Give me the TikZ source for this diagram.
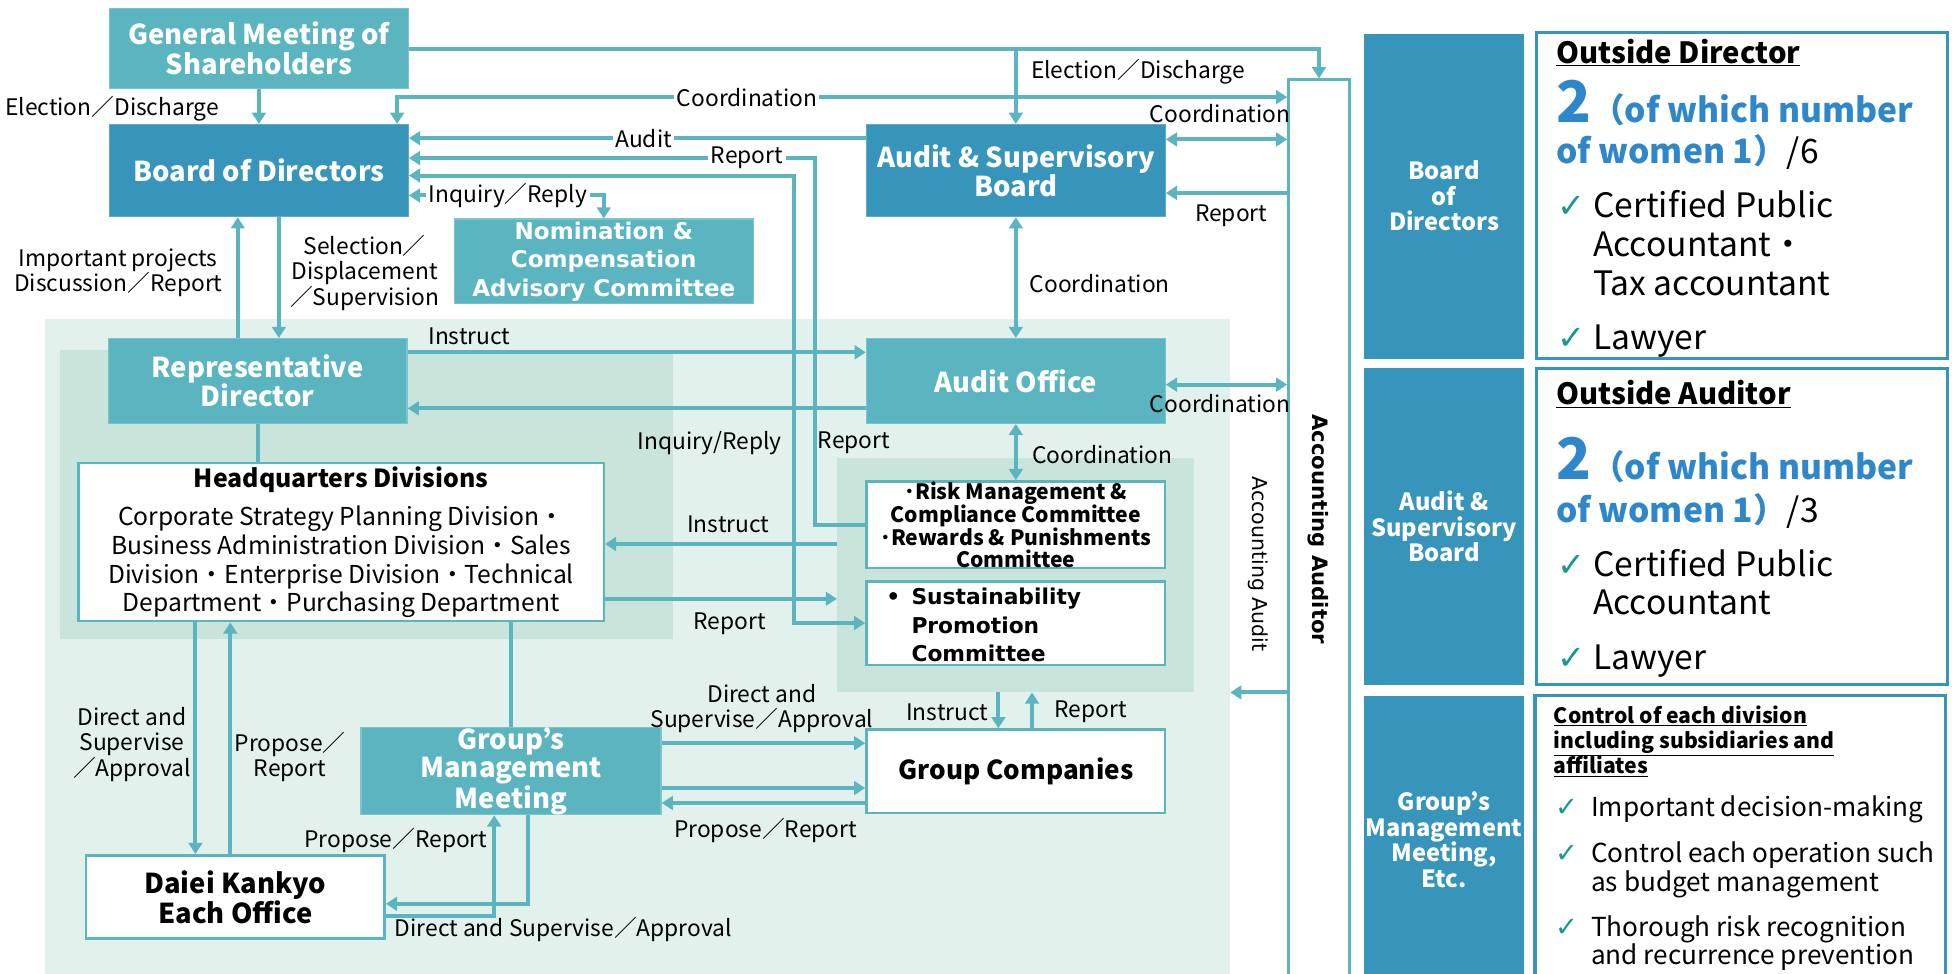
\documentclass[tikz,border=0pt]{standalone}
\usepackage{fontspec}
\setmainfont{Noto Sans CJK JP}
\newfontfamily\verdfont{DejaVu Sans}
\usetikzlibrary{arrows.meta,positioning,calc}

\definecolor{boxteal}{HTML}{5AB5C0}
\definecolor{boxblue}{HTML}{3795BB}
\definecolor{lineteal}{HTML}{5AB5C0}
\definecolor{bgouter}{HTML}{E2F1EC}
\definecolor{bginner}{HTML}{C9E4DB}
\definecolor{numblue}{HTML}{2E87CB}
\definecolor{tickgreen}{HTML}{1A9A8C}

\newcommand{\fs}[2]{\fontsize{#1}{#2}\selectfont}
\newcommand{\chk}[1]{{\verdfont\fs{#1}{#1}\color{tickgreen}✓}}

\begin{document}
\begin{tikzpicture}[x=1pt,y=-1pt,
	>={Triangle[length=9pt,width=11pt]},
	conn/.style={draw=lineteal,line width=3.2pt},
	tealbox/.style={fill=boxteal,draw=boxteal!80!white,line width=1pt,text=white,
		font=\bfseries\fs{22}{22.5},align=center,minimum width=240pt,inner sep=0pt},
	bluebox/.style={tealbox,fill=boxblue,draw=boxblue!80!white},
	whitebox/.style={fill=white,draw=lineteal,line width=2pt,align=center,
		minimum width=240pt,inner sep=0pt},
	area/.style={fill=#1,draw=none,inner sep=0pt},
	lbl/.style={font=\fs{18.3}{20.5},align=center,inner sep=0pt,inner xsep=2pt},
	lblw/.style={lbl,fill=white},
	sidebox/.style={fill=boxblue,text=white,font=\bfseries\fs{19}{20.5},
		align=center,minimum width=128pt,inner sep=0pt},
	infobox/.style={fill=white,draw=boxblue,line width=2.5pt,
		minimum width=330pt,inner sep=0pt},
	txtline/.style={anchor=base west,inner sep=0pt}]
	
	\clip (0,0) rectangle (1568,782);
	
	% shaded areas
	\node[area=bgouter,minimum width=952pt,minimum height=544pt] (grpbg) at (512,528) {};
	\node[area=bginner,minimum width=493pt,minimum height=232pt] (hqbg) at (294.5,397) {};
	\node[area=bginner,minimum width=287pt,minimum height=188pt] (commbg) at (816,462) {};
	
	% boxes
	\node[tealbox,minimum height=64pt] (gms) at (208,39) {General Meeting of\\Shareholders};
	\node[bluebox,minimum height=74pt] (bod) at (208,137) {Board of Directors};
	\node[tealbox,minimum height=68pt,font=\verdfont\bfseries\fs{18.5}{23}] (nom) at (485,210)
		{Nomination \&\\Compensation\\Advisory Committee};
	\node[bluebox,minimum height=74pt,font=\bfseries\fs{22}{17}] (asb) at (816,137)
		{Audit \& Supervisory\\Board};
	\node[tealbox,minimum height=68pt] (rd) at (207,306) {Representative\\Director};
	\node[tealbox,minimum height=68pt] (ao) at (816,306) {Audit Office};
	\node[whitebox,minimum width=422pt,minimum height=127pt,font=\fs{19.8}{23}] (hq) at (274,435.5)
		{{\bfseries\fs{20}{23}Headquarters Divisions}\\[8pt]
		Corporate Strategy Planning Division・\\
		Business Administration Division・Sales\\
		Division・Enterprise Division・Technical\\
		Department・Purchasing Department};
	\node[whitebox,minimum height=67pt,font=\bfseries\fs{17}{18}] (risk) at (816,421.5)
		{･Risk Management \&\\Compliance Committee\\･Rewards \& Punishments\\Committee};
	\node[whitebox,minimum height=67pt] (sus) at (816,500.5) {};
	\node[anchor=west,align=left,inner sep=0pt,font=\verdfont\bfseries\fs{17.5}{23}] (sustxt) at (732,502)
		{\llap{•\hspace{9pt}}Sustainability\\Promotion\\Committee};
	\node[tealbox,minimum width=241pt,minimum height=69pt] (gmm) at (410.5,619.5)
		{Group’s\\Management\\Meeting};
	\node[whitebox,minimum height=67pt,font=\bfseries\fs{21}{23}] (gc) at (816,619.5) {Group Companies};
	\node[whitebox,minimum height=67pt,font=\bfseries\fs{22}{23}] (daiei) at (189,720.5)
		{Daiei Kankyo\\Each Office};
	
	% accounting auditor
	\node[fill=white,draw=lineteal,line width=2pt,minimum width=49pt,minimum height=736pt,
		inner sep=0pt] (aa) at (1059.5,432) {};
	\node[rotate=-90,inner sep=0pt,font=\verdfont\bfseries\fs{17}{20}] (aatxt) at (1059,425)
		{Accounting Auditor};
	\node[rotate=-90,inner sep=0pt,font=\verdfont\fs{16.5}{20}] (audtxt) at (1011,453)
		{Accounting Audit};
	
	% connectors from the top
	\coordinate (coordlane) at (319,78);
	\draw[conn,->] (gms) -- (bod);
	\draw[conn,->] (gms.east) -| (aa.north);
	\draw[conn,->] (gms.east -| asb.north) -- (asb.north);
	\draw[conn,<->] (coordlane -| aa.west) -| ([xshift=111pt]bod.north);
	\draw[conn,<->] ([yshift=25pt]asb.east) -- ([yshift=25pt]asb.east -| aa.west);
	\draw[conn,->] ([yshift=-18pt]asb.east -| aa.west) -- ([yshift=-18pt]asb.east);
	\draw[conn,->] ([yshift=26pt]asb.west) -- ([yshift=26pt]asb.west -| bod.east);
	\draw[conn,->] (risk.west) -- ++(-40,0) |- ([yshift=10pt]bod.east);
	\draw[conn,<->] (sus.west) -- ++(-57,0) |- ([yshift=-4pt]bod.east);
	\draw[conn,<->] ([yshift=-20pt]bod.east) -| (nom.north);
	\draw[conn,->] ([xshift=16pt]bod.south) -- ([xshift=16pt]bod.south |- rd.north);
	\draw[conn,->] ([xshift=-17pt]bod.south |- rd.north) -- ([xshift=-17pt]bod.south);
	\draw[conn,<->] (asb) -- (ao);
	
	% connectors of the company
	\draw[conn,->] ([yshift=23pt]rd.east) -- ([yshift=23pt]rd.east -| ao.west);
	\draw[conn,->] ([yshift=-22pt]ao.west) -- ([yshift=-22pt]ao.west -| rd.east);
	\draw[conn,<->] ([yshift=-3pt]ao.east) -- ([yshift=-3pt]ao.east -| aa.west);
	\draw[conn,<->] (ao) -- (risk);
	\draw[conn] (rd.south) -- (rd.south |- hq.north);
	\draw[conn,->] ([yshift=25pt]commbg.west) -- ([yshift=25pt]commbg.west -| hq.east);
	\draw[conn,->] ([yshift=-19pt]commbg.west -| hq.east) -- ([yshift=-19pt]commbg.west);
	\draw[conn,->] ([xshift=-117pt]hq.south) -- ([xshift=-117pt]hq.south |- daiei.north);
	\draw[conn,->] ([xshift=-89pt]hq.south |- daiei.north) -- ([xshift=-89pt]hq.south);
	\draw[conn] (gmm.north) -- (gmm.north |- hq.south);
	\draw[conn,->] ([yshift=-15.5pt]daiei.east) -| ([xshift=-13.5pt]gmm.south);
	\draw[conn,->] ([xshift=13.5pt]gmm.south) |- ([yshift=-5.5pt]daiei.east);
	\draw[conn,->] ([yshift=22.5pt]gmm.east) -- ([yshift=22.5pt]gmm.east -| gc.west);
	\draw[conn,->] ([yshift=-13.5pt]gmm.east) -- ([yshift=-13.5pt]gmm.east -| gc.west);
	\draw[conn,->] ([yshift=-25.5pt]gmm.east -| gc.west) -- ([yshift=-25.5pt]gmm.east);
	\draw[conn,->] ([xshift=-14pt]gc.north |- commbg.south) -- ([xshift=-14pt]gc.north);
	\draw[conn,->] ([xshift=13pt]gc.north) -- ([xshift=13pt]gc.north |- commbg.south);
	\draw[conn,->] (aa.west |- commbg.south) -- (grpbg.east |- commbg.south);
	
	% labels
	\node[lbl] (l1) at (90,87) {Election／Discharge};
	\node[lbl,anchor=west] (l2) at (826,58) {Election／Discharge};
	\node[lblw] (l3) at (600,78) {Coordination};
	\node[lbl] (l4) at (980,91) {Coordination};
	\node[lbl] (l5) at (989,173) {Report};
	\node[lblw] (l6) at (517,111) {Audit};
	\node[lblw] (l7) at (600,127) {Report};
	\node[lblw] (l8) at (408,157) {Inquiry／Reply};
	\node[lbl] (l9) at (95,219) {Important projects\\Discussion／Report};
	\node[lbl] (l10) at (293,219) {Selection／\\Displacement\\／Supervision};
	\node[lbl,anchor=west] (l11) at (825,228) {Coordination};
	\node[lbl] (l12) at (377,270) {Instruct};
	\node[lbl] (l13) at (980,324) {Coordination};
	\node[lbl] (l14) at (570,356) {Inquiry/Reply};
	\node[lbl] (l15) at (686,356) {Report};
	\node[lbl,anchor=west] (l16) at (827,365) {Coordination};
	\node[lbl] (l17) at (585,421) {Instruct};
	\node[lbl] (l18) at (586,501) {Report};
	\node[lbl] (l19) at (612,569) {Direct and\\Supervise／Approval};
	\node[lbl,anchor=east] (l20) at (796,572) {Instruct};
	\node[lbl,anchor=west] (l21) at (845,572) {Report};
	\node[lbl] (l22) at (106,598) {Direct and\\Supervise\\／Approval};
	\node[lbl] (l23) at (233,608) {Propose／\\Report};
	\node[lbl] (l24) at (615,667) {Propose／Report};
	\node[lbl] (l25) at (318,675) {Propose／Report};
	\node[lbl,anchor=west] (l26) at (315,747) {Direct and Supervise／Approval};
	
	% right panel: board of directors
	\node[sidebox,minimum height=261pt] (sbod) at (1160,157.5) {Board\\of\\Directors};
	\node[infobox,minimum height=262pt] (odbox) at (1399.5,157) {};
	\node[txtline,font=\bfseries\fs{23.5}{28}] (odttl) at (1250,51) {\underline{Outside Director}};
	\node[txtline,text=numblue,font=\bfseries\fs{27}{33}] (odnum) at (1250,98)
		{{\fs{46}{50}2}（of which number};
	\node[txtline,font=\fs{27}{33}] (odnumb) at (1250,131)
		{\textcolor{numblue}{\bfseries of women 1）}/6};
	\node[txtline,font=\fs{27}{31}] (od1) at (1251,175) {\makebox[28.5pt][l]{\chk{27}}Certified Public};
	\node[txtline,font=\fs{27}{31}] (od2) at (1279.5,206) {Accountant・};
	\node[txtline,font=\fs{27}{31}] (od3) at (1279.5,237) {Tax accountant};
	\node[txtline,font=\fs{27}{31}] (od4) at (1251,281) {\makebox[28.5pt][l]{\chk{27}}Lawyer};
	
	% right panel: audit & supervisory board
	\node[sidebox,minimum height=254pt] (sasb) at (1160,423) {Audit \&\\Supervisory\\Board};
	\node[infobox,minimum height=254pt] (oabox) at (1399.5,423) {};
	\node[txtline,font=\bfseries\fs{23.5}{28}] (oattl) at (1250,325) {\underline{Outside Auditor}};
	\node[txtline,text=numblue,font=\bfseries\fs{27}{33}] (oanum) at (1250,385.5)
		{{\fs{46}{50}2}（of which number};
	\node[txtline,font=\fs{27}{33}] (oanumb) at (1250,420)
		{\textcolor{numblue}{\bfseries of women 1）}/3};
	\node[txtline,font=\fs{27}{31}] (oa1) at (1251,463) {\makebox[28.5pt][l]{\chk{27}}Certified Public};
	\node[txtline,font=\fs{27}{31}] (oa2) at (1279.5,494) {Accountant};
	\node[txtline,font=\fs{27}{31}] (oa3) at (1251,538) {\makebox[28.5pt][l]{\chk{27}}Lawyer};
	
	% right panel: group's management meeting
	\node[sidebox,minimum height=231pt] (sgmm) at (1160,674.5) {Group’s\\Management\\Meeting,\\Etc.};
	\node[infobox,minimum height=231pt] (ctbox) at (1398,674.5) {};
	\node[txtline,font=\bfseries\fs{17}{20}] (ct0) at (1248,581) {\underline{Control of each division}};
	\node[txtline,font=\bfseries\fs{17}{20}] (ct0b) at (1248,601) {\underline{including subsidiaries and}};
	\node[txtline,font=\bfseries\fs{17}{20}] (ct0c) at (1248,621.5) {\underline{affiliates}};
	\node[txtline,font=\fs{21}{23}] (ct1) at (1249,656) {\makebox[29pt][l]{\chk{22}}Important decision-making};
	\node[txtline,font=\fs{21}{23}] (ct2) at (1249,693) {\makebox[29pt][l]{\chk{22}}Control each operation such};
	\node[txtline,font=\fs{21}{23}] (ct2b) at (1278,716) {as budget management};
	\node[txtline,font=\fs{21}{23}] (ct3) at (1249,752.5) {\makebox[29pt][l]{\chk{22}}Thorough risk recognition};
	\node[txtline,font=\fs{21}{23}] (ct3b) at (1278,775) {and recurrence prevention};
\end{tikzpicture}
\end{document}
